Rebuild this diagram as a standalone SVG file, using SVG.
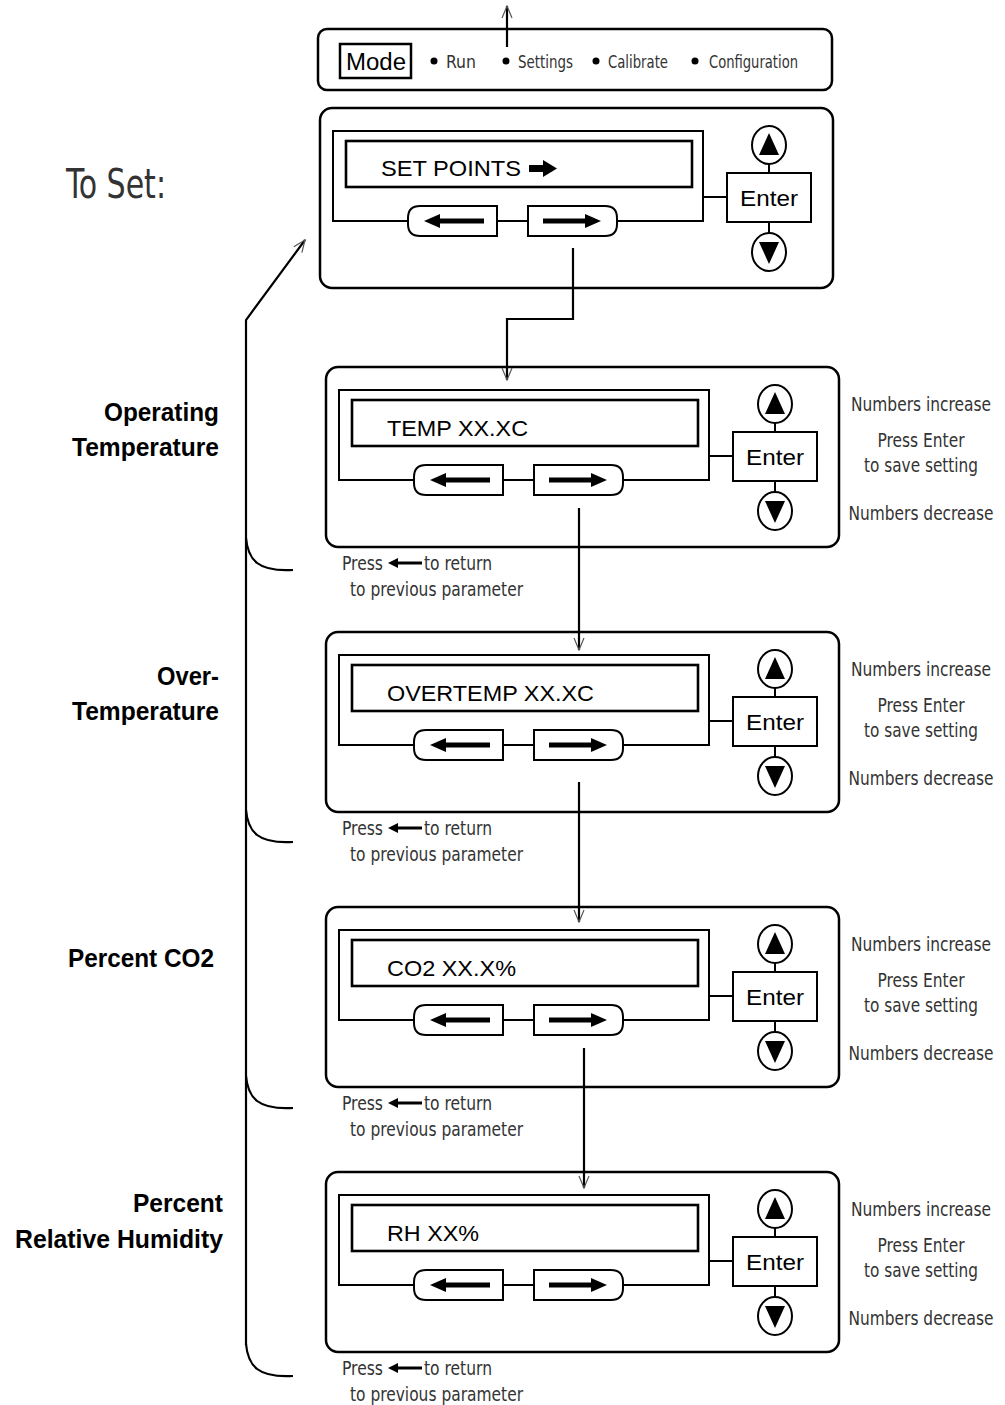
<svg xmlns="http://www.w3.org/2000/svg" xmlns:xlink="http://www.w3.org/1999/xlink" width="1005" height="1405" viewBox="0 0 1005 1405">
<style>
.outer{fill:#fff;stroke:#000;stroke-width:2.5}
.frame{fill:none;stroke:#000;stroke-width:2}
.disp{fill:#fff;stroke:#000;stroke-width:2.6}
.btn{fill:#fff;stroke:#000;stroke-width:2}
.box{fill:#fff;stroke:#000;stroke-width:2}
.ln{stroke:#000;stroke-width:2;fill:none}
.shaft{stroke:#000;stroke-width:5}
.fill{fill:#000;stroke:none}
.conn{stroke:#000;stroke-width:2.2;fill:none}
.sans{font-family:"Liberation Sans",Arial,sans-serif;fill:#000}
.cond{font-family:"Liberation Sans Narrow","DejaVu Sans Condensed","Liberation Sans",sans-serif;fill:#333}
.bold{font-family:"Liberation Sans Narrow","Liberation Sans",Arial,sans-serif;font-weight:bold;fill:#000}
</style>
<defs>
<marker id="vhead" markerUnits="userSpaceOnUse" markerWidth="16" markerHeight="16" refX="0" refY="0" orient="auto" viewBox="-14 -8 16 16">
<path d="M-12,-5 L0,0 L-12,5" fill="none" stroke="#555" stroke-width="1.2"/>
</marker>
<g id="panelBody">
<rect x="0" y="0" width="513" height="180" rx="12" class="outer"/>
<rect x="13" y="23" width="370" height="90" class="frame"/>
<rect x="26" y="33" width="346" height="46" class="disp"/>
<path class="btn" d="M177,98 H100 Q88,98 88,110 V116 Q88,128 100,128 H177 Z"/>
<path class="btn" d="M208,98 H285 Q297,98 297,110 V116 Q297,128 285,128 H208 Z"/>
<path class="fill" d="M104,113 L120,106 L120,120 Z"/>
<line class="shaft" x1="118" y1="113" x2="164" y2="113"/>
<path class="fill" d="M281,113 L265,106 L265,120 Z"/>
<line class="shaft" x1="223" y1="113" x2="267" y2="113"/>
<line class="ln" x1="383" y1="89" x2="407" y2="89"/>
<line class="ln" x1="449" y1="54" x2="449" y2="65"/>
<line class="ln" x1="449" y1="114" x2="449" y2="126"/>
<rect x="407" y="65" width="84" height="49" class="box"/>
<ellipse cx="449" cy="37" rx="17" ry="19" class="box"/>
<path class="fill" d="M449,25 L439,47 L459,47 Z"/>
<ellipse cx="449" cy="144" rx="17" ry="19" class="box"/>
<path class="fill" d="M449,156 L439,134 L459,134 Z"/>
<text x="449" y="98" class="sans" font-size="22" text-anchor="middle" textLength="58" lengthAdjust="spacingAndGlyphs">Enter</text>
</g>
<g id="sideNotes">
<text x="595" y="44" class="cond" font-size="19" text-anchor="middle" textLength="140" lengthAdjust="spacingAndGlyphs">Numbers increase</text>
<text x="595" y="80" class="cond" font-size="19" text-anchor="middle" textLength="87" lengthAdjust="spacingAndGlyphs">Press Enter</text>
<text x="595" y="105" class="cond" font-size="19" text-anchor="middle" textLength="114" lengthAdjust="spacingAndGlyphs">to save setting</text>
<text x="595" y="153" class="cond" font-size="19" text-anchor="middle" textLength="145" lengthAdjust="spacingAndGlyphs">Numbers decrease</text>
<text x="16" y="203" class="cond" font-size="19" textLength="41" lengthAdjust="spacingAndGlyphs">Press</text>
<path class="fill" d="M62,196 L72,191 L72,201 Z"/>
<line x1="70" y1="196" x2="96" y2="196" stroke="#000" stroke-width="3"/>
<text x="98" y="203" class="cond" font-size="19" textLength="68" lengthAdjust="spacingAndGlyphs">to return</text>
<text x="24" y="229" class="cond" font-size="19" textLength="173" lengthAdjust="spacingAndGlyphs">to previous parameter</text>
</g>
</defs>

<g id="modebar">
<rect x="318" y="29" width="514" height="61" rx="9" class="outer"/>
<rect x="340" y="44" width="71" height="34" fill="#fff" stroke="#000" stroke-width="2.5"/>
<text x="376" y="70" class="sans" font-size="23" text-anchor="middle" textLength="60" lengthAdjust="spacingAndGlyphs">Mode</text>
<circle cx="434" cy="61" r="3.5" class="fill"/>
<text x="446" y="68" class="cond" font-size="17" textLength="30" lengthAdjust="spacingAndGlyphs">Run</text>
<circle cx="506" cy="61" r="3.5" class="fill"/>
<text x="518" y="68" class="cond" font-size="17" textLength="55" lengthAdjust="spacingAndGlyphs">Settings</text>
<circle cx="596" cy="61" r="3.5" class="fill"/>
<text x="608" y="68" class="cond" font-size="17" textLength="60" lengthAdjust="spacingAndGlyphs">Calibrate</text>
<circle cx="695" cy="61" r="3.5" class="fill"/>
<text x="709" y="68" class="cond" font-size="17" textLength="89" lengthAdjust="spacingAndGlyphs">Configuration</text>
</g>

<g id="node-setpoints" transform="translate(320,108)">
<use xlink:href="#panelBody"/>
<text x="61" y="68" class="sans" font-size="22" textLength="140" lengthAdjust="spacingAndGlyphs">SET POINTS</text>
<rect x="209" y="57" width="16" height="7" class="fill"/>
<path class="fill" d="M223,52 L237,60.5 L223,69 Z"/>
</g>

<g id="node-temp" transform="translate(326,367)">
<use xlink:href="#panelBody"/>
<text x="61" y="69" class="sans" font-size="22" textLength="141" lengthAdjust="spacingAndGlyphs">TEMP XX.XC</text>
<use xlink:href="#sideNotes"/>
</g>

<g id="node-overtemp" transform="translate(326,632)">
<use xlink:href="#panelBody"/>
<text x="61" y="69" class="sans" font-size="22" textLength="207" lengthAdjust="spacingAndGlyphs">OVERTEMP XX.XC</text>
<use xlink:href="#sideNotes"/>
</g>

<g id="node-co2" transform="translate(326,907)">
<use xlink:href="#panelBody"/>
<text x="61" y="69" class="sans" font-size="22" textLength="129" lengthAdjust="spacingAndGlyphs">CO2 XX.X%</text>
<use xlink:href="#sideNotes"/>
</g>

<g id="node-rh" transform="translate(326,1172)">
<use xlink:href="#panelBody"/>
<text x="61" y="69" class="sans" font-size="22" textLength="92" lengthAdjust="spacingAndGlyphs">RH XX%</text>
<use xlink:href="#sideNotes"/>
</g>

<g id="labels">
<text x="66" y="198" class="cond" font-size="41" fill="#222" textLength="100" lengthAdjust="spacingAndGlyphs">To Set:</text>
<text x="219" y="421" class="bold" font-size="26" text-anchor="end" textLength="115" lengthAdjust="spacingAndGlyphs">Operating</text>
<text x="219" y="456" class="bold" font-size="26" text-anchor="end" textLength="147" lengthAdjust="spacingAndGlyphs">Temperature</text>
<text x="219" y="685" class="bold" font-size="26" text-anchor="end" textLength="62" lengthAdjust="spacingAndGlyphs">Over-</text>
<text x="219" y="720" class="bold" font-size="26" text-anchor="end" textLength="147" lengthAdjust="spacingAndGlyphs">Temperature</text>
<text x="214" y="967" class="bold" font-size="26" text-anchor="end" textLength="146" lengthAdjust="spacingAndGlyphs">Percent CO2</text>
<text x="223" y="1212" class="bold" font-size="26" text-anchor="end" textLength="90" lengthAdjust="spacingAndGlyphs">Percent</text>
<text x="223" y="1248" class="bold" font-size="26" text-anchor="end" textLength="208" lengthAdjust="spacingAndGlyphs">Relative Humidity</text>
</g>

<g id="connectors">
<line class="conn" x1="507" y1="47" x2="507" y2="6" marker-end="url(#vhead)"/>
<polyline class="conn" points="573,248 573,319 507,319 507,380" marker-end="url(#vhead)"/>
<line class="conn" x1="579" y1="508" x2="579" y2="650" marker-end="url(#vhead)"/>
<line class="conn" x1="579" y1="782" x2="579" y2="922" marker-end="url(#vhead)"/>
<line class="conn" x1="584" y1="1048" x2="584" y2="1188" marker-end="url(#vhead)"/>
<path class="conn" d="M246,1345 V320 L305,240" marker-end="url(#vhead)"/>
<path class="conn" d="M246,538 C248,560 258,572 293,570"/>
<path class="conn" d="M246,810 C248,832 258,844 293,842"/>
<path class="conn" d="M246,1076 C248,1098 258,1110 293,1108"/>
<path class="conn" d="M246,1344 C248,1366 258,1378 293,1376"/>
</g>
</svg>
